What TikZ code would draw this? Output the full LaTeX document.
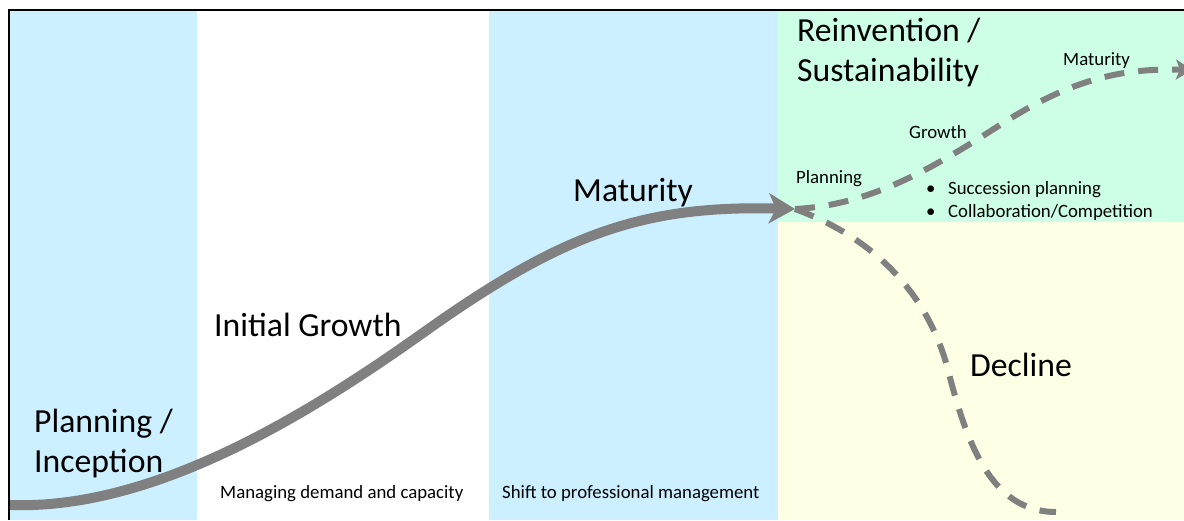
\documentclass[tikz,border=0pt]{standalone}
\usepackage{fontspec}
\setmainfont{Carlito}
\usetikzlibrary{arrows.meta}

\definecolor{phase blue}{RGB}{204,240,255}
\definecolor{phase green}{RGB}{204,255,230}
\definecolor{phase yellow}{RGB}{255,255,230}
\colorlet{curve gray}{black!50}
\tikzset{
  stage/.style={anchor=base west, inner sep=0pt, align=left, font=\fontsize{33.7}{40}\selectfont},
  note/.style={anchor=base west, inner sep=0pt, align=left, font=\fontsize{18.8}{23}\selectfont},
  trend/.style={draw=curve gray, line width=10pt, -{Stealth[length=26pt,width=30pt,inset=7pt]}},
  option/.style={draw=curve gray, line width=6pt, dash pattern=on 20pt off 14pt}
  }

\begin{document}
\begin{tikzpicture}[x=1pt,y=-1pt]
\useasboundingbox (0,0) rectangle (1184,520);
% phase bands
\fill[phase blue] (10,10) rectangle (197,520);
\fill[phase blue] (489,10) rectangle (778,520);
\fill[phase green] (778,10) rectangle (1184,222);
\fill[phase yellow] (778,222) rectangle (1184,520);
\draw[line width=2pt] (9,520) -- (9,10) -- (1184,10);

\coordinate (start) at (10,505);
\coordinate (turn) at (420,335);
\coordinate (split) at (795,209);
\coordinate (peak) at (1000,125);
\coordinate (rise) at (1192,70);
\coordinate (drop) at (948,370);
\coordinate (floor) at (1056,512);

\draw[trend] (start) .. controls (150,510) and (300,420) .. (turn)
  .. controls (560,235) and (640,205) .. (split);
\draw[option, -{Stealth[length=16pt,width=20pt,inset=4pt]}] (split)
  .. controls (870,205) and (930,170) .. (peak)
  .. controls (1070,80) and (1120,68) .. (rise);
\draw[option] (split) .. controls (880,240) and (930,300) .. (drop)
  .. controls (966,440) and (990,512) .. (floor);

% last line sits on the given baseline
\node[stage] (inception) at (34,472) {Planning /\\Inception};
\node[stage] (growth) at (214,336) {Initial Growth};
\node[stage] (maturity) at (573,201) {Maturity};
\node[stage] (reinvention) at (797,81) {Reinvention /\\Sustainability};
\node[stage] (decline) at (970,376) {Decline};

\foreach \pos/\name/\txt in {{(220,498)/demand/Managing demand and capacity},
    {(502,498)/shift/Shift to professional management}, {(796,183)/planning/Planning},
    {(909,138)/regrow/Growth}, {(1063,65)/remature/Maturity}} {
    \node[note] (\name) at \pos {\txt};
}
\node[note] (bullets) at (926,217)
  {\makebox[22pt][l]{\textbullet}Succession planning\\\makebox[22pt][l]{\textbullet}Collaboration/Competition};
\end{tikzpicture}
\end{document}
